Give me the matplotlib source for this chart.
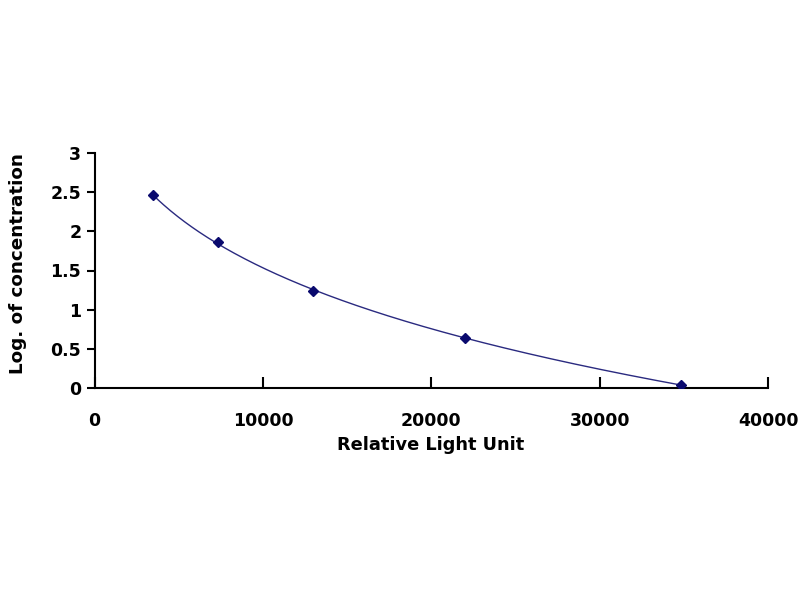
import numpy as np
import matplotlib
matplotlib.use("Agg")
import matplotlib.pyplot as plt

rlu = [3470, 7310, 12990, 21990, 34850]
log_conc = [2.46, 1.86, 1.24, 0.64, 0.04]
x_ticks = [0, 10000, 20000, 30000, 40000]
y_ticks = [0, 0.5, 1, 1.5, 2, 2.5, 3]
y_tick_labels = ["0", "0.5", "1", "1.5", "2", "2.5", "3"]

plt.rcParams['font.family'] = ['DejaVu Sans']

fig = plt.figure(figsize=(8, 6), dpi=100)
ax = fig.add_axes([94.5/800, 1-388/600, (768-94.5)/800, (388-153)/600])

# fitted curve through the standards (quadratic in log of RLU)
lx = np.log(rlu)
coef = np.polyfit(lx, log_conc, 2)
xs = np.linspace(min(rlu), max(rlu), 300)
ax.plot(xs, np.polyval(coef, np.log(xs)), color='#2a2a80', lw=1.0, zorder=2)
ax.plot(rlu, log_conc, linestyle='none', marker='D', markersize=5,
        color='#0a0a6e', zorder=3)

ax.set_xlim(0, 40000)
ax.set_ylim(0, 3)
ax.set_xticks(x_ticks)
ax.set_xticklabels([str(v) for v in x_ticks])
ax.set_yticks(y_ticks)
ax.set_yticklabels(y_tick_labels)

for s in ['top', 'right']:
    ax.spines[s].set_visible(False)
for s in ['left', 'bottom']:
    ax.spines[s].set_linewidth(1.5)
    ax.spines[s].set_color('black')

ax.tick_params(axis='x', direction='in', length=8, width=1.5, pad=17,
               labelsize=12.5)
ax.tick_params(axis='y', direction='out', length=6, width=1.5, pad=3.5,
               labelsize=12.5)
for lab in ax.get_xticklabels() + ax.get_yticklabels():
    lab.set_fontweight('bold')

fig.text(431/800, 1-445/600, "Relative Light Unit", ha='center', va='center',
         fontsize=12.8, fontweight='bold')
fig.text(18/800, 1-264/600, "Log. of concentration", ha='center', va='center',
         rotation=90, fontsize=13.2, fontweight='bold')

fig.savefig("out.png", dpi=100, facecolor='white')
